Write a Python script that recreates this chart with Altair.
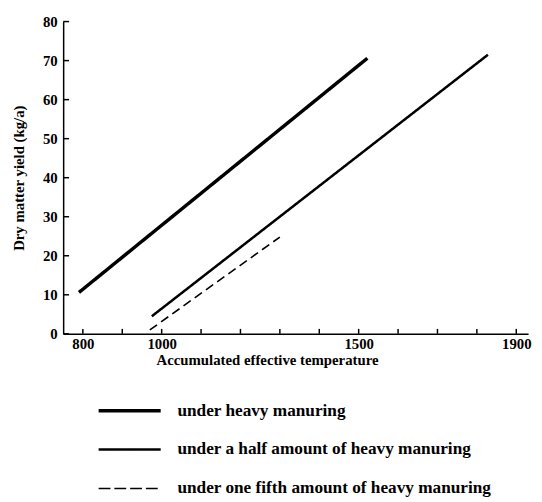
import altair as alt
import pandas as pd

# Series values
series = ["under heavy  manuring",
          "under a half amount of heavy manuring",
          "under one fifth amount of heavy manuring"]
heavy_x = [790, 1522]
heavy_y = [10.6, 70.6]
half_x = [975, 1828]
half_y = [4.5, 71.5]
fifth_x = [970, 1300]
fifth_y = [1.0, 24.8]

x_ticks = [800, 900, 1000, 1100, 1200, 1300, 1400, 1500, 1600, 1700, 1800, 1900]
x_labels = [800, 1000, 1500, 1900]
y_ticks = [0, 10, 20, 30, 40, 50, 60, 70, 80]

rows = []
for s, xs, ys in zip(series, [heavy_x, half_x, fifth_x], [heavy_y, half_y, fifth_y]):
    for i, (xv, yv) in enumerate(zip(xs, ys)):
        rows.append({"series": s, "x": xv, "y": yv, "order": i})
df = pd.DataFrame(rows)
xt = pd.DataFrame({"x": x_ticks})
yt = pd.DataFrame({"y": y_ticks})
leg = pd.DataFrame({"series": series})

FONT = "Liberation Serif"
W, H = 472, 317

xaxis = alt.Axis(values=x_ticks, ticks=False, grid=False, domain=True, domainColor="black",
                 domainWidth=1.5, format="d",
                 labelExpr="indexof([800,1000,1500,1900], datum.value) >= 0 ? datum.label : ''",
                 labelFont=FONT, labelFontSize=15, labelFontWeight="bold", labelColor="black",
                 labelPadding=3, title="Accumulated effective temperature",
                 titleFont=FONT, titleFontSize=15, titleFontWeight="bold", titleColor="black",
                 titleX=207, titleAnchor="start", titleAlign="center", titlePadding=1,
                 labelFlush=False)
yaxis = alt.Axis(values=y_ticks, ticks=False, grid=False, domain=True, domainColor="black",
                 domainWidth=1.5, labelFont=FONT, labelFontSize=15, labelFontWeight="bold",
                 labelColor="black", labelPadding=6, title="Dry matter yield (kg/a)",
                 titleFont=FONT, titleFontSize=15, titleFontWeight="bold", titleColor="black",
                 titlePadding=16)

X = alt.X("x:Q", scale=alt.Scale(domain=[750, 1930], nice=False, zero=False), axis=xaxis)
Y = alt.Y("y:Q", scale=alt.Scale(domain=[0, 80], nice=False), axis=yaxis)

dash = alt.StrokeDash("series:N", scale=alt.Scale(domain=series, range=[[1, 0], [1, 0], [9, 5]]), legend=None)
sw = alt.StrokeWidth("series:N", scale=alt.Scale(domain=series, range=[3.5, 1.6, 1.6]), legend=None)

lines = alt.Chart(df).mark_line(color="black", strokeCap="butt").encode(
    x=X, y=Y, detail="series:N", order="order:Q", strokeDash=dash, strokeWidth=sw)

xtick = alt.Chart(xt).mark_rule(color="black", strokeWidth=1.5).encode(
    x=X, y=alt.value(H), y2=alt.value(H - 5))
ytick = alt.Chart(yt).mark_rule(color="black", strokeWidth=1.5).encode(
    y=Y, x=alt.value(0), x2=alt.value(6))

LY = alt.Y("series:N", scale=alt.Scale(type="point", domain=series, range=[395, 474], padding=0),
           axis=None)
leg_dash = alt.StrokeDash("series:N", scale=alt.Scale(domain=series, range=[[1, 0], [1, 0], [12, 4]]), legend=None)
leg_rules = alt.Chart(leg).mark_rule(color="black", strokeCap="butt").encode(
    y=LY, x=alt.value(36), x2=alt.value(99), strokeDash=leg_dash, strokeWidth=sw)
leg_text = alt.Chart(leg).mark_text(align="left", baseline="middle", font=FONT, fontSize=17.5,
                                     fontWeight="bold", color="black").encode(
    y=LY, x=alt.value(116), text="series:N")

main = alt.layer(lines, xtick, ytick)
legend = alt.layer(leg_rules, leg_text)

chart = alt.layer(main, legend).resolve_scale(y="independent", strokeDash="independent").properties(
    width=W, height=H,
    autosize=alt.AutoSizeParams(type="none"),
    padding={"left": 56, "top": 10, "right": 6, "bottom": 170},
    background="white",
).configure_view(stroke=None)

chart.save("out.html", embed_options={"renderer": "svg", "actions": False})
